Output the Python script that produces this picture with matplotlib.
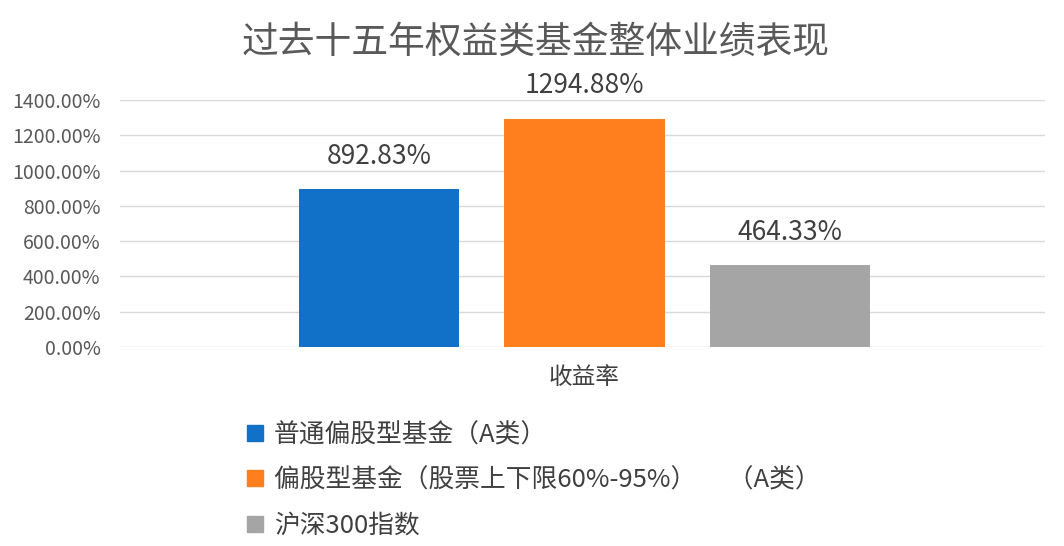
import matplotlib.pyplot as plt
from matplotlib.lines import Line2D

plt.rcParams['font.family'] = ['Noto Sans CJK SC', 'DejaVu Sans']

# dados
categoria = '收益率'
series = ['普通偏股型基金（A类）', '偏股型基金（股票上下限60%-95%）\u3000 （A类）', '沪深300指数']
valores = [892.83, 1294.88, 464.33]
cores = ['#1170C8', '#FF7F1E', '#A5A5A5']
yticks = [0, 200, 400, 600, 800, 1000, 1200, 1400]

fig = plt.figure(figsize=(10.64, 5.46), dpi=100)
ax = fig.add_axes([0.1128, 0.3645, 0.8692, 0.4523])

largura = 0.78
posicoes = [-1, 0, 1]
for x, v, c in zip(posicoes, valores, cores):
    ax.bar(x, v, width=largura, color=c, zorder=3)
    ax.text(x, v + 185, '{:.2f}%'.format(v), ha='center', va='center', fontsize=19, color='#404040')

ax.set_xlim(-2.26, 2.24)
ax.set_ylim(0, 1400)
ax.set_yticks(yticks)
ax.set_yticklabels(['{:.2f}%'.format(t) for t in yticks], fontsize=14, color='#595959')
ax.set_xticks([0])
ax.set_xticklabels([categoria], fontsize=17, color='#404040')
ax.tick_params(axis='y', length=0, pad=14)
ax.tick_params(axis='x', length=0, pad=14)
ax.grid(axis='y', color='#D9D9D9', linewidth=1, zorder=0)
for s in ax.spines.values():
    s.set_visible(False)

fig.text(0.503, 0.923, '过去十五年权益类基金整体业绩表现', ha='center', va='center', fontsize=26.5, color='#595959')

handles = [Line2D([], [], marker='s', linestyle='none', markersize=11, color=c) for c in cores]
fig.legend(handles, series, loc='upper left', bbox_to_anchor=(0.232, 0.227), frameon=False,
           fontsize=18.5, labelcolor='#404040', handlelength=0.6, handletextpad=0.45, labelspacing=0.75,
           borderaxespad=0, borderpad=0)

fig.savefig('out.png', dpi=100, facecolor='white')
